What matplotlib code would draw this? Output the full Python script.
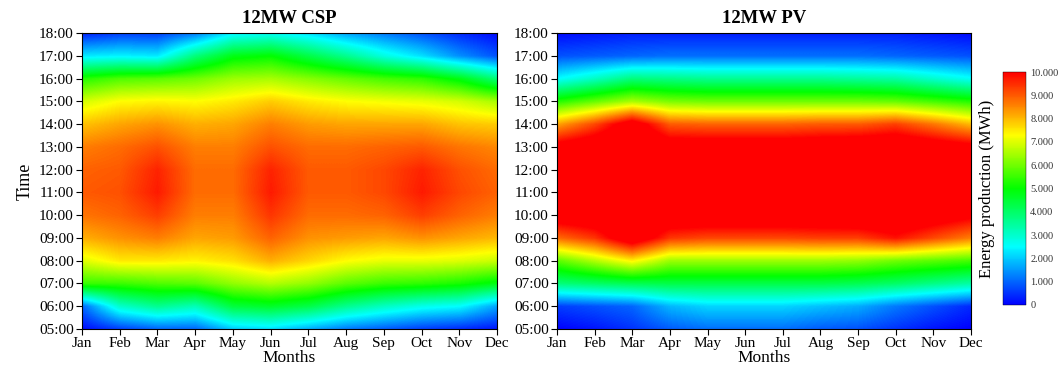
import matplotlib
matplotlib.use("Agg")
import matplotlib.pyplot as plt
from matplotlib.colors import LinearSegmentedColormap
import numpy as np

plt.rcParams['font.family'] = ['Liberation Serif', 'DejaVu Serif']

months = ['Jan', 'Feb', 'Mar', 'Apr', 'May', 'Jun', 'Jul', 'Aug', 'Sep', 'Oct', 'Nov', 'Dec']
hours = [5, 6, 7, 8, 9, 10, 11, 12, 13, 14, 15, 16, 17, 18]
hour_labels = ['%02d:00' % h for h in hours]

# energy (MWh) per hour, one list per month (05:00 .. 18:00)
csp = {
    'Jan': [0.1, 1.0, 5.5, 7.0, 8.1, 8.7, 9.0, 8.9, 8.6, 7.9, 6.9, 5.3, 2.3, 0.3],
    'Feb': [0.6, 3.0, 5.5, 7.5, 8.4, 8.9, 9.1, 9.0, 8.8, 8.2, 7.3, 5.7, 2.4, 0.6],
    'Mar': [1.0, 3.6, 5.7, 7.5, 8.6, 9.3, 9.7, 9.6, 9.1, 8.4, 7.4, 5.8, 2.3, 0.6],
    'Apr': [1.0, 3.2, 5.8, 7.4, 8.2, 8.6, 8.8, 8.8, 8.6, 8.1, 7.3, 6.0, 3.8, 1.2],
    'May': [2.0, 4.4, 6.3, 7.6, 8.3, 8.6, 8.8, 8.8, 8.6, 8.2, 7.5, 6.4, 4.8, 2.4],
    'Jun': [2.2, 4.6, 6.6, 8.1, 8.9, 9.4, 9.7, 9.6, 9.1, 8.6, 7.8, 6.5, 5.0, 2.6],
    'Jul': [1.7, 4.3, 6.3, 7.7, 8.4, 8.8, 9.0, 9.0, 8.8, 8.3, 7.5, 6.2, 4.3, 2.2],
    'Aug': [1.2, 3.6, 5.8, 7.3, 8.3, 8.8, 9.0, 9.0, 8.8, 8.2, 7.3, 5.9, 3.6, 1.6],
    'Sep': [0.9, 3.1, 5.5, 7.1, 8.2, 8.9, 9.2, 9.2, 8.9, 8.2, 7.2, 5.6, 2.8, 1.2],
    'Oct': [0.6, 2.7, 5.4, 7.1, 8.4, 9.3, 9.7, 9.6, 9.0, 8.2, 7.1, 5.4, 2.2, 0.8],
    'Nov': [0.4, 2.5, 5.2, 7.0, 8.2, 8.9, 9.2, 9.1, 8.7, 7.9, 6.9, 4.8, 1.4, 0.4],
    'Dec': [0.2, 1.6, 4.8, 6.8, 8.0, 8.6, 8.9, 8.8, 8.5, 7.8, 6.5, 3.8, 0.8, 0.1],
}

pv = {
    'Jan': [0.0, 0.6, 3.8, 5.8, 8.8, 10.6, 10.9, 10.9, 10.4, 8.2, 5.3, 2.5, 0.8, 0.1],
    'Feb': [0.2, 0.8, 4.0, 6.6, 9.4, 10.8, 11.2, 11.2, 10.8, 9.2, 5.9, 3.1, 0.9, 0.2],
    'Mar': [0.5, 1.0, 4.2, 7.4, 10.8, 11.2, 11.3, 11.3, 11.2, 10.6, 6.5, 3.8, 1.0, 0.3],
    'Apr': [0.9, 1.8, 4.3, 6.4, 9.4, 10.8, 11.2, 11.2, 10.6, 9.0, 6.1, 3.7, 1.1, 0.3],
    'May': [1.1, 2.1, 4.3, 6.4, 9.2, 10.8, 11.2, 11.2, 10.6, 8.9, 6.0, 3.6, 1.1, 0.3],
    'Jun': [1.1, 2.1, 4.3, 6.4, 9.2, 10.8, 11.2, 11.2, 10.6, 8.9, 6.0, 3.6, 1.1, 0.3],
    'Jul': [1.1, 2.1, 4.3, 6.4, 9.2, 10.8, 11.2, 11.2, 10.6, 8.9, 6.0, 3.6, 1.1, 0.3],
    'Aug': [0.9, 1.9, 4.3, 6.4, 9.3, 10.8, 11.2, 11.2, 10.7, 9.0, 6.0, 3.6, 1.1, 0.3],
    'Sep': [0.8, 1.7, 4.2, 6.3, 9.3, 10.9, 11.2, 11.2, 10.8, 9.0, 6.0, 3.5, 1.1, 0.3],
    'Oct': [0.5, 1.2, 4.0, 6.0, 9.8, 11.0, 11.2, 11.2, 10.9, 9.3, 5.9, 3.4, 1.0, 0.3],
    'Nov': [0.2, 0.8, 3.7, 5.8, 9.2, 10.6, 11.0, 11.0, 10.6, 8.7, 5.6, 3.0, 0.9, 0.2],
    'Dec': [0.0, 0.4, 3.4, 5.6, 8.6, 10.2, 10.9, 10.9, 10.3, 8.0, 5.3, 2.6, 0.8, 0.1],
}

cbar_ticks = [0, 1, 2, 3, 4, 5, 6, 7, 8, 9, 10]
cbar_labels = ['0', '1.000', '2.000', '3.000', '4.000', '5.000',
               '6.000', '7.000', '8.000', '9.000', '10.000']

cmap = LinearSegmentedColormap.from_list('energy', [
    (0.0, (0.0, 0.0, 1.0)),
    (0.25, (0.0, 1.0, 1.0)),
    (0.5, (0.0, 1.0, 0.0)),
    (0.73, (1.0, 1.0, 0.0)),
    (0.86, (1.0, 0.5, 0.0)),
    (1.0, (1.0, 0.0, 0.0)),
])

fig = plt.figure(figsize=(10.58, 3.70), dpi=100)
ax1 = fig.add_axes([82 / 1058, 41 / 370, 415 / 1058, 296 / 370])
ax2 = fig.add_axes([557 / 1058, 41 / 370, 414 / 1058, 296 / 370])
cax = fig.add_axes([1003 / 1058, 65 / 370, 23 / 1058, 233 / 370])

for ax, data, title in [(ax1, csp, '12MW CSP'), (ax2, pv, '12MW PV')]:
    z = np.array([data[m] for m in months]).T
    im = ax.imshow(z, origin='lower', aspect='auto', cmap=cmap, vmin=0, vmax=10,
                   interpolation='bilinear', interpolation_stage='data',
                   extent=(-0.5, len(months) - 0.5, hours[0] - 0.5, hours[-1] + 0.5))
    ax.set_xlim(0, len(months) - 1)
    ax.set_ylim(hours[0], hours[-1])
    ax.set_xticks(range(len(months)))
    ax.set_xticklabels(months, fontsize=11)
    ax.set_yticks(hours)
    ax.set_yticklabels(hour_labels, fontsize=11)
    ax.tick_params(direction='out', length=4, width=0.8, pad=2)
    ax.set_title(title, fontsize=13.5, fontweight='bold', pad=7)
    ax.set_xlabel('Months', fontsize=12.5, labelpad=0)
    for s in ax.spines.values():
        s.set_linewidth(0.8)
ax1.set_ylabel('Time', fontsize=13, labelpad=4)

cb = fig.colorbar(im, cax=cax, ticks=cbar_ticks)
cb.ax.set_yticklabels(cbar_labels, fontsize=7.5, color='#333333')
cb.ax.tick_params(length=0, pad=3)
cb.outline.set_linewidth(0.3)
cb.set_label('Energy production (MWh)', fontsize=12, labelpad=6)
cb.ax.yaxis.set_label_position('left')

fig.savefig('out.png', dpi=100)
